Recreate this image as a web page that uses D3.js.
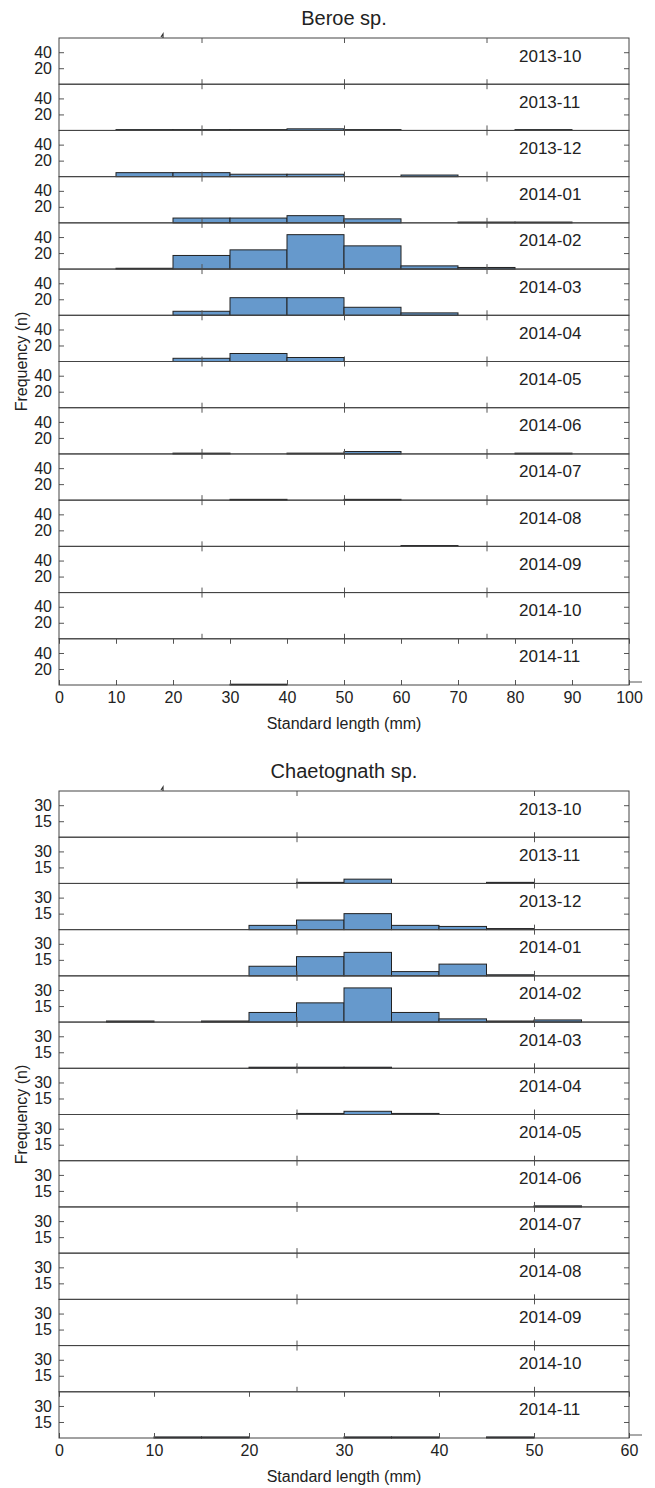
<!DOCTYPE html>
<html>
<head>
<meta charset="utf-8">
<script src="https://cdn.jsdelivr.net/npm/d3@7"></script>
<style>
  body { margin: 0; background: #fff; }
  text { font-family: "Liberation Sans", Arial, Helvetica, sans-serif; fill: #222; }
</style>
</head>
<body>
<svg id="chart" width="655" height="1488"></svg>
<script>
// ---------------- DATA ----------------
const months = ["2013-10","2013-11","2013-12","2014-01","2014-02","2014-03","2014-04",
                "2014-05","2014-06","2014-07","2014-08","2014-09","2014-10","2014-11"];

// Beroe sp.: bin edges (mm) and counts per month (10 mm bins)
const beroeEdges = [0,10,20,30,40,50,60,70,80,90,100];
const beroeCounts = [
  [0,0,0,0,0,0,0,0,0,0],      // 2013-10
  [0,1,1,1,2,1,0,0,1,0],      // 2013-11
  [0,5,5,3,3,0,2,0,0,0],      // 2013-12
  [0,0,6,6,9,5,0,1,1,0],      // 2014-01
  [0,1,17,24,43,29,4,2,0,0],  // 2014-02
  [0,0,5,22,22,10,3,0,0,0],   // 2014-03
  [0,0,4,10,5,0,0,0,0,0],     // 2014-04
  [0,0,0,0,0,0,0,0,0,0],      // 2014-05
  [0,0,1,0,1,3,0,0,1,0],      // 2014-06
  [0,0,0,1,0,1,0,0,0,0],      // 2014-07
  [0,0,0,0,0,0,1,0,0,0],      // 2014-08
  [0,0,0,0,0,0,0,0,0,0],      // 2014-09
  [0,0,0,0,0,0,0,0,0,0],      // 2014-10
  [0,0,0,1,0,0,0,0,0,0]       // 2014-11
];
const beroeYTicks = [20, 40];
const beroeXTicksInner = [25, 50, 75];
const beroeXTicksBottom = [0,10,20,30,40,50,60,70,80,90,100];

// Chaetognath sp.: bin edges (mm) and counts per month (5 mm bins)
const chaetEdges = [0,5,10,15,20,25,30,35,40,45,50,55,60];
const chaetCounts = [
  [0,0,0,0,0,0,0,0,0,0,0,0],   // 2013-10
  [0,0,0,0,0,1,4,0,0,1,0,0],   // 2013-11
  [0,0,0,0,4,9,15,4,3,1,0,0],  // 2013-12
  [0,0,0,0,9,18,22,4,11,1,0,0],// 2014-01
  [0,1,0,1,9,18,32,9,3,1,2,0], // 2014-02
  [0,0,0,0,1,1,1,0,0,0,0,0],   // 2014-03
  [0,0,0,0,0,1,3,1,0,0,0,0],   // 2014-04
  [0,0,0,0,0,0,0,0,0,0,0,0],   // 2014-05
  [0,0,0,0,0,0,0,0,0,0,1,0],   // 2014-06
  [0,0,0,0,0,0,0,0,0,0,0,0],   // 2014-07
  [0,0,0,0,0,0,0,0,0,0,0,0],   // 2014-08
  [0,0,0,0,0,0,0,0,0,0,0,0],   // 2014-09
  [0,0,0,0,0,0,0,0,0,0,0,0],   // 2014-10
  [0,0,1,1,0,0,1,1,0,1,0,0]    // 2014-11
];
const chaetYTicks = [15, 30];
const chaetXTicksInner = [25, 50];
const chaetXTicksBottom = [0,10,20,30,40,50,60];

const titles = ["Beroe sp.", "Chaetognath sp."];
const xLabel = "Standard length (mm)";
const yLabel = "Frequency (n)";

// ---------------- LAYOUT ----------------
const svg = d3.select("#chart");
const L = 59, R = 629;
const BAR_FILL = "#6699cc", BAR_STROKE = "#222", BOX = "#444", TICK = "#555";

const charts = [
  { title: titles[0], edges: beroeEdges, counts: beroeCounts, xMax: 100, yMax: 57.75,
    yTicks: beroeYTicks, xInner: beroeXTicksInner, xBottom: beroeXTicksBottom, top: 38, bottom: 685 },
  { title: titles[1], edges: chaetEdges, counts: chaetCounts, xMax: 60, yMax: 43.3,
    yTicks: chaetYTicks, xInner: chaetXTicksInner, xBottom: chaetXTicksBottom, top: 791, bottom: 1438 }
];

function styleAxis(g) {
  g.select(".domain").remove();
  g.selectAll(".tick line").attr("stroke", TICK).attr("stroke-width", 1);
  g.selectAll(".tick text").style("font-size", "16px").attr("fill", "#222")
    .style("font-family", '"Liberation Sans", Arial, sans-serif');
}

charts.forEach(c => {
  const n = months.length;
  const ph = (c.bottom - c.top) / n;
  const x = d3.scaleLinear().domain([0, c.xMax]).range([L, R]);
  const g = svg.append("g");

  // title
  g.append("text").attr("x", (L + R) / 2).attr("y", c.top - 13.5)
    .attr("text-anchor", "middle").style("font-size", "20px").text(c.title);

  months.forEach((m, i) => {
    const pt = c.top + i * ph, pb = pt + ph;
    const y = d3.scaleLinear().domain([0, c.yMax]).range([pb, pt]);
    const pg = g.append("g");
    const isLast = i === n - 1;

    // bars
    const bins = c.counts[i].map((v, k) => ({ x0: c.edges[k], x1: c.edges[k + 1], v }))
      .filter(d => d.v > 0);
    pg.selectAll("rect.bar").data(bins).join("rect")
      .attr("class", "bar")
      .attr("x", d => x(d.x0)).attr("width", d => x(d.x1) - x(d.x0))
      .attr("y", d => y(d.v)).attr("height", d => y(0) - y(d.v))
      .attr("fill", BAR_FILL).attr("stroke", BAR_STROKE).attr("stroke-width", 1);

    // y axes (inward ticks)
    pg.append("g").attr("transform", `translate(${L},0)`)
      .call(d3.axisLeft(y).tickValues(c.yTicks).tickSizeInner(-5).tickSizeOuter(0).tickPadding(7))
      .call(styleAxis);
    pg.append("g").attr("transform", `translate(${R},0)`)
      .call(d3.axisRight(y).tickValues(c.yTicks).tickSizeInner(-5).tickSizeOuter(0).tickFormat(""))
      .call(styleAxis);

    // x axes (inward ticks, top & bottom)
    const tv = isLast ? c.xBottom : c.xInner;
    pg.append("g").attr("transform", `translate(0,${pt})`)
      .call(d3.axisTop(x).tickValues(tv).tickSizeInner(-5).tickSizeOuter(0).tickFormat(""))
      .call(styleAxis);
    const bAxis = d3.axisBottom(x).tickValues(tv).tickSizeInner(-5).tickSizeOuter(0).tickPadding(7);
    if (!isLast) bAxis.tickFormat("");
    pg.append("g").attr("transform", `translate(0,${pb})`).call(bAxis).call(styleAxis);

    // box
    pg.append("rect").attr("x", L).attr("y", pt).attr("width", R - L).attr("height", ph)
      .attr("fill", "none").attr("stroke", BOX).attr("stroke-width", 1);

    // month label
    pg.append("text").attr("x", 519).attr("y", pt + 23.5)
      .style("font-size", "17px").text(m);
  });

  // stray marks seen in reference
  g.append("path").attr("d", `M${L + 102},${c.top - 1} L${L + 104},${c.top - 4} L${L + 104},${c.top}`)
    .attr("stroke", "#333").attr("fill", "none").attr("stroke-width", 1.2);
  g.append("line").attr("x1", R).attr("x2", R + 13).attr("y1", c.bottom - 3).attr("y2", c.bottom - 3)
    .attr("stroke", TICK).attr("stroke-width", 1);

  // axis labels
  g.append("text").attr("x", (L + R) / 2).attr("y", c.bottom + 43.5)
    .attr("text-anchor", "middle").style("font-size", "16px").text(xLabel);
  g.append("text")
    .attr("transform", `translate(27,${(c.top + c.bottom) / 2}) rotate(-90)`)
    .attr("text-anchor", "middle").style("font-size", "16px").text(yLabel);
});
</script>
</body>
</html>
